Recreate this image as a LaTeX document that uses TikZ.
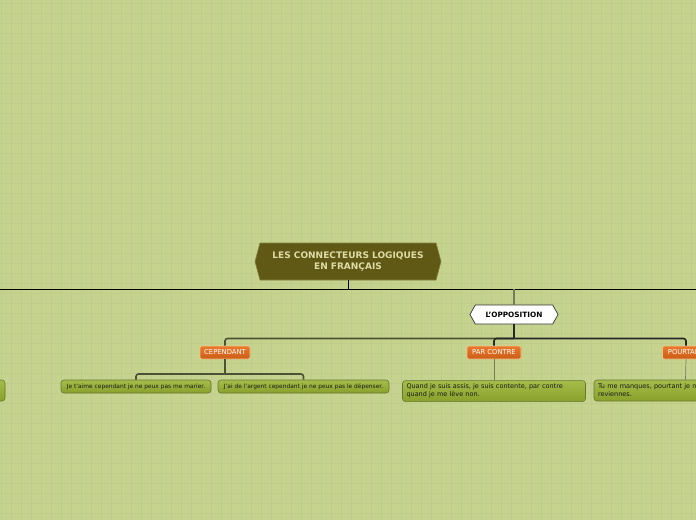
\documentclass[tikz,border=0pt]{standalone}
\usepackage{fontspec}
\setmainfont{DejaVu Sans}
\usetikzlibrary{shapes.symbols,positioning}
\definecolor{paper}{HTML}{C5D38F}
\definecolor{gridline}{HTML}{BECD89}
\definecolor{titlefill}{HTML}{5F5915}
\definecolor{titleedge}{HTML}{878140}
\definecolor{titletext}{HTML}{DEDBA6}
\definecolor{orangetop}{HTML}{E97A2D}
\definecolor{orangebot}{HTML}{CC5C16}
\definecolor{orangeedge}{HTML}{F4C28C}
\definecolor{leaftop}{HTML}{A6BC4A}
\definecolor{leafbot}{HTML}{89A12B}
\definecolor{leafedge}{HTML}{687636}
\definecolor{branchgray}{HTML}{4C5136}
\definecolor{thingray}{HTML}{737A58}
\begin{document}
\begin{tikzpicture}[x=1pt,y=-1pt,
        main node/.style={signal,signal to=west and east,signal pointer angle=150,
            fill=titlefill,draw=titleedge,line width=0.6pt,text=titletext,
            font=\fontsize{9}{11}\selectfont\bfseries,align=center,
            minimum width=186pt,minimum height=37pt,inner sep=0pt},
        topic node/.style={signal,signal to=west and east,signal pointer angle=122,
            fill=white,draw=black!80,line width=0.7pt,
            font=\fontsize{7.3}{8}\selectfont\bfseries,
            minimum width=88pt,minimum height=19pt,inner sep=0pt},
        link node/.style={rounded corners=2pt,top color=orangetop,bottom color=orangebot,
            draw=orangeedge,line width=0.6pt,text=white,
            font=\fontsize{6.8}{8}\selectfont,minimum height=13pt,inner sep=0pt},
        leaf node/.style={rounded corners=3pt,top color=leaftop,bottom color=leafbot,
            draw=leafedge,line width=0.6pt,text=black!90,
            font=\fontsize{5.9}{8}\selectfont,minimum height=13pt,inner sep=0pt},
        long leaf/.style={leaf node,font=\fontsize{6.5}{8}\selectfont,align=left,
            text width=175pt,minimum width=183pt,minimum height=21pt},
        bar/.style={line width=1.6pt,draw=branchgray,rounded corners=2.5pt},
        thin bar/.style={line width=0.7pt,draw=thingray}]

        \useasboundingbox (0,0) rectangle (696,520);
        \clip (0,0) rectangle (696,520);

        % Paper and grid
        \fill[paper] (0,0) rectangle (696,520);
        \foreach \gx in {0,...,69}
            \draw[gridline,line width=0.7pt] (1.7+10*\gx,0) -- (1.7+10*\gx,520);
        \foreach \gy in {0,...,51}
            \draw[gridline,line width=0.7pt] (0,3.3+10*\gy) -- (696,3.3+10*\gy);

        % Define vertices
        \node[main node] (title) at (348,261.5) {LES CONNECTEURS LOGIQUES\\EN FRANÇAIS};
        \node[topic node] (opp) at (514,314.5) {L'OPPOSITION};

        \node[link node,minimum width=50pt] (cep) at (225,352.5) {CEPENDANT};
        \node[link node,minimum width=54pt] (pc) at (494,352.5) {PAR CONTRE};
        \node[link node,minimum width=47pt] (pt) at (686,352.5) {POURTANT};

        \node[leaf node,minimum width=150pt] (cep1) at (136,386.5)
            {Je t'aime cependant je ne peux pas me marier.};
        \node[leaf node,minimum width=171pt] (cep2) at (303.5,386.5)
            {J'ai de l'argent cependant je ne peux pas le dépenser.};
        \node[long leaf] (pc1) [below=21pt of pc]
            {Quand je suis assis, je suis contente, par contre\\quand je me lève non.};
        \node[long leaf] (pt1) at (685.5,390.5)
            {Tu me manques, pourtant je ne veux pas que tu\\reviennes.};
        \node[long leaf] (west1) at (-86.5,390.5) {};

        \coordinate (west) at (-10,289);
        \coordinate (east) at (706,289);
        \coordinate (hub) at (514,338.5);
        \coordinate (cephub) at (225,374);

        % Draw edges
        \draw[line width=0.8pt] (west) -- (east);
        \draw[line width=0.8pt] (title.south) -- (title.south |- west);
        \draw[line width=1.2pt,draw=thingray] (opp.north |- east) -- (opp.north);
        \draw[bar,draw=black!85] (opp.south) -- (hub);
        \draw[bar] (hub) -| (cep.north);
        \draw[bar,draw=black!85] (hub) -| (pc.north);
        \draw[bar,draw=black!85] (hub) -| (pt.north);
        \draw[bar] (cep.south) -- (cephub);
        \draw[bar] (cephub) -| (cep1.north);
        \draw[bar] (cephub) -| (cep2.north);
        \draw[thin bar] (pc.south) -- (pc1.north);
        \draw[thin bar] (pt.south) -- (pt1.north);

\end{tikzpicture}
\end{document}
